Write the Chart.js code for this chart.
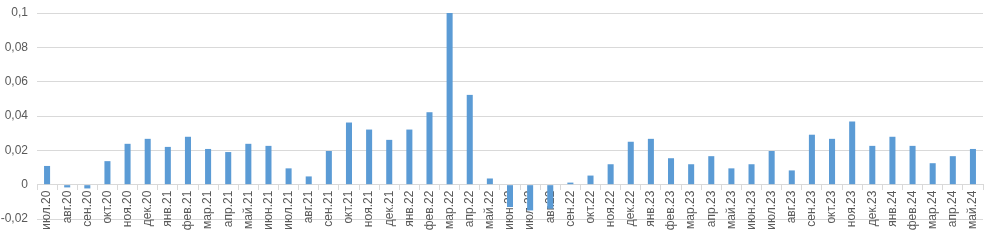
<!DOCTYPE html>
<html>
<head>
<meta charset="utf-8">
<script src="https://cdn.jsdelivr.net/npm/chart.js@4"></script>
<style>
  html, body { margin: 0; padding: 0; background: #fff; }
  #wrap { width: 993px; height: 241px; }
</style>
</head>
<body>
<div id="wrap"><canvas id="chart"></canvas></div>
<script>
// месяцы по оси X
const months = [
    'июл.20', 'авг.20', 'сен.20', 'окт.20', 'ноя.20', 'дек.20',
    'янв.21', 'фев.21', 'мар.21', 'апр.21', 'май.21', 'июн.21',
    'июл.21', 'авг.21', 'сен.21', 'окт.21', 'ноя.21', 'дек.21',
    'янв.22', 'фев.22', 'мар.22', 'апр.22', 'май.22', 'июн.22',
    'июл.22', 'авг.22', 'сен.22', 'окт.22', 'ноя.22', 'дек.22',
    'янв.23', 'фев.23', 'мар.23', 'апр.23', 'май.23', 'июн.23',
    'июл.23', 'авг.23', 'сен.23', 'окт.23', 'ноя.23', 'дек.23',
    'янв.24', 'фев.24', 'мар.24', 'апр.24', 'май.24'
];

// значения
const values = [
    0.0109, -0.0016, -0.0022, 0.0137, 0.0238, 0.0267,
    0.0220, 0.0279, 0.0208, 0.0190, 0.0238, 0.0226,
    0.0095, 0.0048, 0.0196, 0.0362, 0.0321, 0.0261,
    0.0321, 0.0422, 0.1000, 0.0523, 0.0036, -0.0130,
    -0.0150, -0.0140, 0.0012, 0.0053, 0.0119, 0.0250,
    0.0267, 0.0154, 0.0119, 0.0166, 0.0095, 0.0119,
    0.0196, 0.0083, 0.0291, 0.0267, 0.0368, 0.0226,
    0.0279, 0.0226, 0.0125, 0.0166, 0.0208
];

const yMin = -0.02;
const yMax = 0.1;
const yStep = 0.02;

const ctx = document.getElementById('chart').getContext('2d');

new Chart(ctx, {
    type: 'bar',
    data: {
        labels: months,
        datasets: [{
            data: values,
            backgroundColor: '#5b9bd5',
            categoryPercentage: 1,
            barPercentage: 0.3
        }]
    },
    options: {
        responsive: true,
        maintainAspectRatio: false,
        animation: false,
        layout: { padding: { left: 1, right: 10, top: 13, bottom: 22 } },
        plugins: {
            legend: { display: false },
            tooltip: { enabled: false }
        },
        scales: {
            x: {
                position: { y: 0 },
                grid: {
                    offset: true,
                    drawOnChartArea: false,
                    drawTicks: true,
                    tickLength: 5,
                    color: '#d9d9d9'
                },
                border: { color: '#d9d9d9' },
                ticks: {
                    autoSkip: false,
                    maxRotation: 90,
                    minRotation: 90,
                    padding: 1,
                    color: '#595959',
                    font: { family: 'Liberation Sans, Arial, sans-serif', size: 12 }
                }
            },
            y: {
                min: yMin,
                max: yMax,
                // фиксируем ширину оси и убираем лишний отступ сверху
                afterFit: s => { s.width = 36; s.paddingTop = 0; s.paddingBottom = 0; },
                grid: { color: '#d9d9d9', drawTicks: false },
                border: { display: false },
                ticks: {
                    stepSize: yStep,
                    padding: 9,
                    color: '#595959',
                    font: { family: 'Liberation Sans, Arial, sans-serif', size: 12 },
                    callback: v => {
                        const r = Math.round(v * 100) / 100;
                        return r === 0 ? '0' : String(r).replace('.', ',');
                    }
                }
            }
        }
    }
});
</script>
</body>
</html>
